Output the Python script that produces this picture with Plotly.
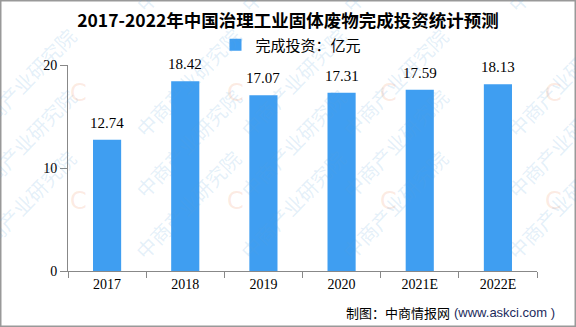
import plotly.graph_objects as go

categories = ["2017", "2018", "2019", "2020", "2021E", "2022E"]
values = [12.74, 18.42, 17.07, 17.31, 17.59, 18.13]
series_name = "完成投资：亿元"
title = "2017-2022年中国治理工业固体废物完成投资统计预测"
source_cn = "制图：中商情报网"
source_url = "(www.askci.com )"

serif = "Liberation Serif, Noto Sans CJK SC"
cjk = "Noto Sans CJK SC"

# plot area in pixels
L, R, T, B = 68, 39, 65, 56
PW, PH = 576 - L - R, 327 - T - B


def px(x):
    return (x - L) / PW


def py(y):
    return (327 - B - y) / PH


fig = go.Figure()
fig.add_trace(go.Bar(
    x=categories, y=values, name=series_name,
    marker=dict(color="#3f9ef1", line=dict(width=0)),
    width=0.36,
))

# value labels (x given as category index)
for i, v in enumerate(values):
    fig.add_annotation(x=i, y=v, xref="x", yref="y", text=f"{v:.2f}", showarrow=False, yshift=17,
                       yanchor="middle", font=dict(family=serif, size=15, color="#000"))

# watermarks (tiled)
for lx in [-97, 68, 235, 399, 564]:
    for ly in [-48, 77, 201, 326]:
        fig.add_annotation(x=px(lx + 58), y=py(ly - 58), xref="paper", yref="paper",
                           text="中商产业研究院", showarrow=False, textangle=-46,
                           font=dict(family=cjk, size=20, color="rgba(90,160,220,0.17)"))
        if ly < 300:
            fig.add_annotation(x=px(lx), y=py(ly), xref="paper", yref="paper",
                               text="C", showarrow=False,
                               font=dict(family="DejaVu Sans", size=24, color="rgba(240,150,110,0.2)"))

fig.add_annotation(x=px(452), y=py(312), xref="paper", yref="paper", xanchor="right", yanchor="middle",
                   text=source_cn, showarrow=False, font=dict(family=cjk, size=13, color="#000"))
fig.add_annotation(x=px(452), y=py(312), xref="paper", yref="paper", xanchor="left", yanchor="middle",
                   text=source_url, showarrow=False,
                   font=dict(family="Liberation Sans", size=13, color="#1c2b5c"))

fig.update_layout(
    width=576, height=327,
    margin=dict(l=L, r=R, t=T, b=B),
    paper_bgcolor="white", plot_bgcolor="white",
    title=dict(text="<b>" + title + "</b>", x=0.5, xref="container", xanchor="center",
               y=1 - 21 / 327, yref="container", yanchor="middle",
               font=dict(family=cjk, size=17.5, color="#000")),
    showlegend=True,
    legend=dict(orientation="h", x=px(291), xanchor="center", y=py(45), yanchor="middle",
                font=dict(family=cjk, size=15, color="#000"),
                itemwidth=30, bgcolor="rgba(0,0,0,0)"),
    shapes=[dict(type="rect", xref="paper", yref="paper", x0=px(0.75), x1=px(575.25),
                 y0=py(326.25), y1=py(0.75), line=dict(color="#999", width=1.5))],
)
fig.update_xaxes(type="category", categoryorder="array", categoryarray=categories,
                 range=[-0.5, len(categories) - 0.5],
                 showline=True, linecolor="#888", linewidth=1, ticks="outside", tickson="boundaries",
                 ticklen=6, tickcolor="#888", showgrid=False,
                 tickfont=dict(family=serif, size=14, color="#000"))
fig.update_yaxes(range=[0, 20], tickvals=[0, 10, 20], showline=True, linecolor="#888", linewidth=1,
                 ticks="outside", ticklen=7, tickcolor="#888", showgrid=False, zeroline=False,
                 tickfont=dict(family=serif, size=14, color="#000"))

fig.write_html("out.html")
